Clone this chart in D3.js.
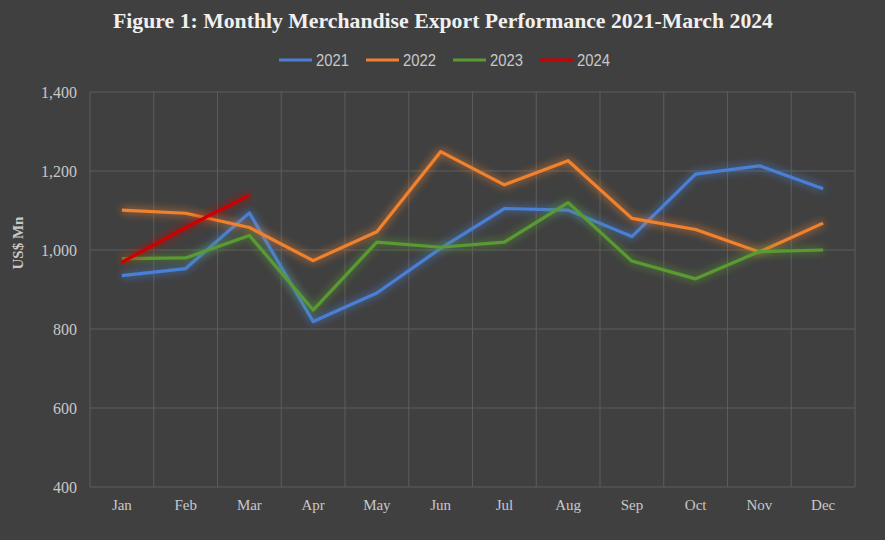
<!DOCTYPE html>
<html><head><meta charset="utf-8">
<script src="https://cdn.jsdelivr.net/npm/d3@7/dist/d3.min.js"></script>
<style>
html,body{margin:0;padding:0;background:#404040;}
svg{display:block;}
</style></head>
<body>
<svg id="chart" width="885" height="540"></svg>
<script>
const months = ["Jan","Feb","Mar","Apr","May","Jun","Jul","Aug","Sep","Oct","Nov","Dec"];
const seriesNames = ["2021","2022","2023","2024"];
const v2021 = [935, 953, 1094, 819, 891, 1004, 1105, 1101, 1034, 1192, 1213, 1155];
const v2022 = [1101, 1093, 1057, 973, 1046, 1249, 1165, 1226, 1080, 1052, 995, 1068];
const v2023 = [978, 980, 1037, 848, 1020, 1007, 1020, 1120, 972, 927, 996, 1000];
const v2024 = [969, 1057, 1139];
const colors = ["#4a7fd4", "#f0822f", "#5a9a32", "#cc0000"];
const yTicks = [400, 600, 800, 1000, 1200, 1400];

(function(){
const series = [v2021, v2022, v2023, v2024];
const svg = d3.select("#chart");
svg.append("rect").attr("width",885).attr("height",540).attr("fill","#404040");

const defs = svg.append("defs");
const f = defs.append("filter").attr("id","glow").attr("x","-20%").attr("y","-20%").attr("width","140%").attr("height","140%");
f.append("feGaussianBlur").attr("in","SourceGraphic").attr("stdDeviation",4).attr("result","b");
const m = f.append("feMerge");
m.append("feMergeNode").attr("in","b");
m.append("feMergeNode").attr("in","SourceGraphic");

const pL = 90, pR = 855, pT = 92, pB = 487;
const x = d3.scaleBand().domain(months).range([pL, pR]);
const y = d3.scaleLinear().domain([400, 1400]).range([pB, pT]);

const g = svg.append("g");
g.selectAll("line.h").data(yTicks).enter().append("line")
  .attr("x1", pL).attr("x2", pR).attr("y1", d=>y(d)).attr("y2", d=>y(d))
  .attr("stroke","#5c5c5c").attr("stroke-width",1);
const vb = months.map(mm => x(mm)).concat([pR]);
g.selectAll("line.v").data(vb).enter().append("line")
  .attr("x1", d=>d).attr("x2", d=>d).attr("y1", pT).attr("y2", pB)
  .attr("stroke","#5c5c5c").attr("stroke-width",1);

const yAxis = d3.axisLeft(y).tickValues(yTicks).tickSize(0).tickPadding(13).tickFormat(d3.format(","));
const ya = svg.append("g").attr("transform",`translate(${pL},0)`).call(yAxis);
ya.select(".domain").remove();
ya.selectAll("text").attr("fill","#c8c8c8").style("font-family","'Liberation Serif', serif").style("font-size","16px");

const xAxis = d3.axisBottom(x).tickSize(0).tickPadding(12);
const xa = svg.append("g").attr("transform",`translate(0,${pB})`).call(xAxis);
xa.select(".domain").remove();
xa.selectAll("text").attr("fill","#c8c8c8").style("font-family","'Liberation Serif', serif").style("font-size","15px");

const line = d3.line().x((d,i)=>x(months[i]) + x.bandwidth()/2).y(d=>y(d));
svg.append("g").selectAll("path").data(series).enter().append("path")
  .attr("d", d=>line(d)).attr("fill","none")
  .attr("stroke",(d,i)=>colors[i]).attr("stroke-width",3.2)
  .attr("stroke-linejoin","round").attr("filter","url(#glow)");

svg.append("text").attr("x", 443).attr("y", 28).attr("text-anchor","middle")
  .attr("fill","#f0f0f0").style("font-family","'Liberation Serif', serif")
  .style("font-weight","bold").style("font-size","21px")
  .attr("textLength", 660).attr("lengthAdjust","spacingAndGlyphs")
  .text("Figure 1: Monthly Merchandise Export Performance 2021-March 2024");

svg.append("text").attr("transform","translate(23,243) rotate(-90)").attr("text-anchor","middle")
  .attr("fill","#c8c8c8").style("font-family","'Liberation Serif', serif")
  .style("font-weight","bold").style("font-size","15px").text("US$ Mn");

const lx = [279, 366, 453, 540];
const lg = svg.append("g").selectAll("g").data(seriesNames).enter().append("g")
  .attr("transform",(d,i)=>`translate(${lx[i]},60)`);
lg.append("line").attr("x1",0).attr("x2",33).attr("y1",0).attr("y2",0)
  .attr("stroke",(d,i)=>colors[i]).attr("stroke-width",3);
lg.append("text").attr("x",37).attr("y",5.5).attr("fill","#c8c8c8")
  .style("font-family","'Liberation Sans Narrow','Liberation Sans',sans-serif").style("font-size","16px")
  .attr("textLength", 33).attr("lengthAdjust","spacingAndGlyphs")
  .text(d=>d);
})();
</script>
</body></html>
